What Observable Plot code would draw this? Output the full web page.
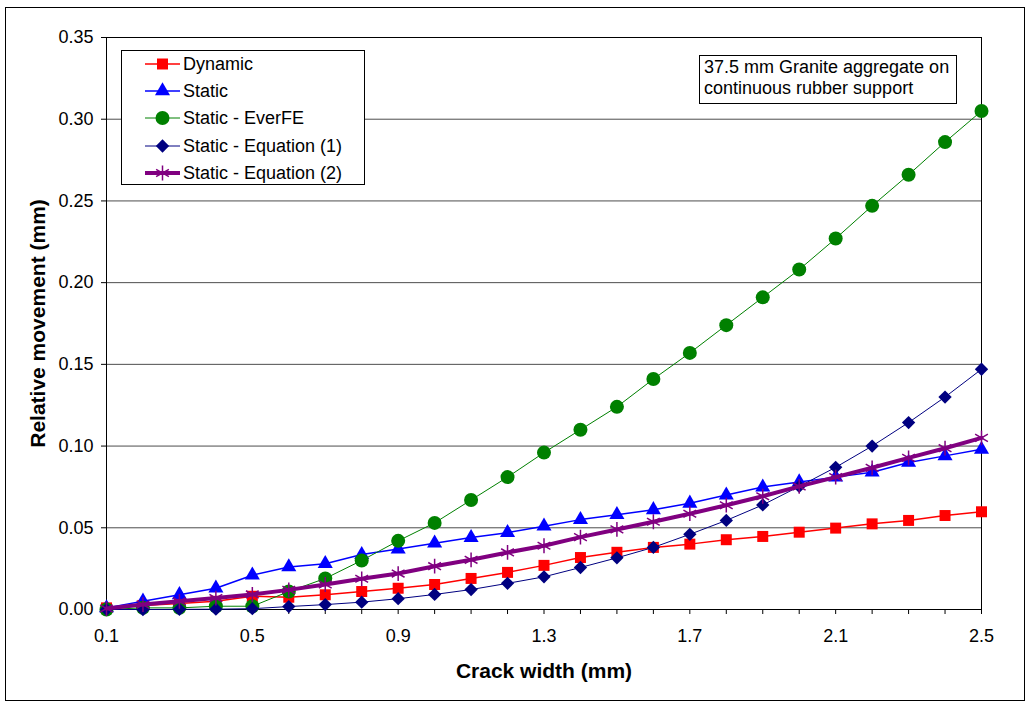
<!DOCTYPE html>
<html><head><meta charset="utf-8">
<script src="https://cdn.jsdelivr.net/npm/d3@7"></script>
<script src="https://cdn.jsdelivr.net/npm/@observablehq/plot@0.6"></script>
<style>
body{margin:0;background:#fff;font-family:Arial,"Liberation Sans",sans-serif;}
#wrap{position:relative;width:1029px;height:708px;overflow:hidden}
#wrap > svg{position:absolute;left:0;top:0}
#border{position:absolute;left:5px;top:7px;width:1018px;height:692px;border:1px solid #000;pointer-events:none}
.box{position:absolute;border:1px solid #000;background:#fff;font-size:18px;color:#000;box-sizing:border-box}
.row{position:absolute;left:0;height:22px;line-height:22px;white-space:nowrap}
#wrap .row svg{position:absolute;left:22px;top:0}
.row span{position:absolute;left:61px;top:0}
svg [aria-label="x-axis label"], svg [aria-label="y-axis label"]{font-weight:bold;font-size:21px}
</style></head><body><div id="wrap"><div id="border"></div></div>
<script>
const crackWidth = [0.1,0.2,0.3,0.4,0.5,0.6,0.7,0.8,0.9,1.0,1.1,1.2,1.3,1.4,1.5,1.6,1.7,1.8,1.9,2.0,2.1,2.2,2.3,2.4,2.5];
const dynamic = [0.001,0.0025,0.0036,0.005,0.0081,0.0075,0.009,0.011,0.013,0.0153,0.019,0.0227,0.027,0.0318,0.035,0.038,0.040,0.0427,0.0447,0.0473,0.0498,0.0524,0.0545,0.0575,0.0598];
const staticVals = [0.001,0.005,0.009,0.013,0.021,0.026,0.028,0.0336,0.037,0.0406,0.044,0.047,0.051,0.055,0.058,0.061,0.065,0.070,0.0749,0.078,0.081,0.084,0.090,0.094,0.098];
const everFE = [0.000,0.001,0.001,0.002,0.002,0.011,0.019,0.030,0.042,0.053,0.067,0.081,0.096,0.110,0.124,0.141,0.157,0.174,0.191,0.208,0.227,0.247,0.266,0.286,0.305];
const equation1 = [0.000,0.000,0.0001,0.0002,0.0005,0.0018,0.003,0.0045,0.0066,0.0092,0.0122,0.016,0.020,0.0257,0.0316,0.038,0.046,0.0545,0.064,0.0753,0.087,0.100,0.1144,0.130,0.147];
const equation2 = [0.0006,0.003,0.005,0.007,0.0092,0.012,0.0153,0.0188,0.022,0.0265,0.0304,0.0349,0.039,0.0443,0.049,0.0537,0.0586,0.0638,0.0693,0.0753,0.081,0.0867,0.0928,0.0987,0.105];

const seriesNames = ["Dynamic","Static","Static - EverFE","Static - Equation (1)","Static - Equation (2)"];
const seriesValues = [dynamic, staticVals, everFE, equation1, equation2];
const yTicks = [0,0.05,0.10,0.15,0.20,0.25,0.30,0.35];
const xMinorTicks = crackWidth;
const xLabelTicks = [0.1,0.5,0.9,1.3,1.7,2.1,2.5];
const xTitle = "Crack width (mm)";
const yTitle = "Relative movement (mm)";
const annotation = ["37.5 mm Granite aggregate on","continuous rubber support"];

const styles = [
  {color:"#FF0000", symbol:"square", r:6.2, sw:1.5, filled:true},
  {color:"#0000FF", symbol:"triangle", r:5.6, sw:1.5, filled:true},
  {color:"#008000", symbol:"circle", r:7, sw:1, filled:true},
  {color:"#000080", symbol:"diamond2", r:6, sw:1, filled:true},
  {color:"#800080", symbol:"asterisk", r:7, sw:4, filled:false}
];
const symbolMap = {square:d3.symbolSquare, triangle:d3.symbolTriangle, circle:d3.symbolCircle, diamond2:d3.symbolDiamond2, asterisk:d3.symbolAsterisk};

const rows = seriesNames.map((name,i)=>crackWidth.map((x,j)=>({series:name, x, y:seriesValues[i][j]})));

const marks = [
  Plot.gridY(yTicks, {stroke:"#000", strokeOpacity:0.7}),
  Plot.frame({stroke:"#000"}),
  Plot.axisY({ticks:yTicks, tickSize:5, tickPadding:8, tickFormat:d3.format(".2f"), label:yTitle, labelArrow:"none", labelAnchor:"center", labelOffset:76}),
  Plot.axisX({ticks:xMinorTicks, tickSize:5, tickFormat:()=>"", label:null}),
  Plot.axisX({ticks:xLabelTicks, tickSize:0, tickPadding:20, tickFormat:d3.format(".1f"), label:xTitle, labelArrow:"none", labelAnchor:"center", labelOffset:68})
];
rows.forEach((data,i)=>{
  const s = styles[i];
  marks.push(Plot.line(data, {x:"x", y:"y", stroke:s.color, strokeWidth:s.sw}));
  if (s.filled) marks.push(Plot.dot(data, {x:"x", y:"y", symbol:s.symbol, r:s.r, fill:s.color, stroke:"none"}));
  else marks.push(Plot.dot(data, {x:"x", y:"y", symbol:s.symbol, r:s.r, stroke:s.color, fill:"none", strokeWidth:1.5}));
});

const chart = Plot.plot({
  width:1029, height:708,
  marginLeft:106, marginRight:48, marginTop:37, marginBottom:99,
  style:{fontFamily:"Arial, 'Liberation Sans', sans-serif", fontSize:"18px", color:"#000", background:"#fff"},
  x:{domain:[0.1,2.5], labelArrow:"none"},
  y:{domain:[0,0.35], labelArrow:"none"},
  marks
});
const wrap = document.getElementById("wrap");
wrap.insertBefore(chart, wrap.firstChild);
// safety: strip any arrow glyphs from axis titles
chart.querySelectorAll('[aria-label$="-axis label"] text').forEach(t=>{
  if (/[→←↑↓]/.test(t.textContent)) t.textContent = t.textContent.replace(/\s*[→←↑↓]\s*/g,"").trim();
});

// legend
const legend = document.createElement("div");
legend.className = "box";
Object.assign(legend.style,{left:"121px", top:"50px", width:"244px", height:"135px"});
seriesNames.forEach((name,i)=>{
  const s = styles[i];
  const row = document.createElement("div");
  row.className = "row";
  row.style.top = (2 + i*27.2) + "px";
  row.style.width = "240px";
  const sv = d3.create("svg").attr("width",38).attr("height",22);
  sv.append("line").attr("x1",1).attr("x2",36).attr("y1",11).attr("y2",11).attr("stroke",s.color).attr("stroke-width",s.sw);
  const p = sv.append("path").attr("transform","translate(18.5,11)")
    .attr("d", d3.symbol(symbolMap[s.symbol], Math.PI*s.r*s.r)());
  if (s.filled) p.attr("fill",s.color); else p.attr("fill","none").attr("stroke",s.color).attr("stroke-width",1.5);
  row.appendChild(sv.node());
  const t = document.createElement("span"); t.textContent = name; row.appendChild(t);
  legend.appendChild(row);
});
wrap.appendChild(legend);

// annotation
const note = document.createElement("div");
note.className = "box";
Object.assign(note.style,{left:"699px", top:"55px", width:"258px", height:"49px", lineHeight:"21px", padding:"1px 0 0 4px"});
note.innerHTML = annotation.map(l=>`<div>${l}</div>`).join("");
wrap.appendChild(note);
</script>
</body></html>
